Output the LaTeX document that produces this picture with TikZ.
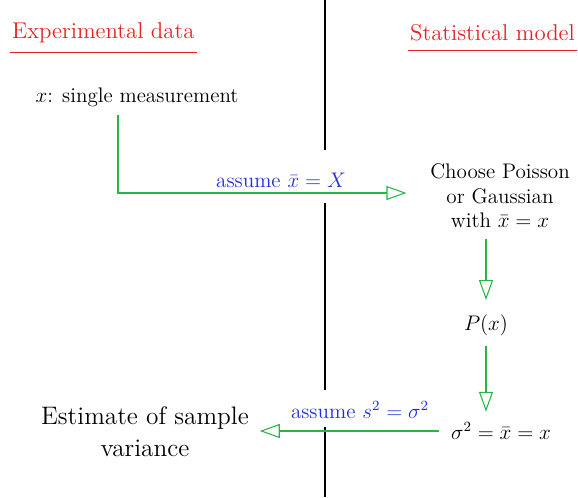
\documentclass[tikz,border=0pt]{standalone}
\usepackage{amsmath}
\usetikzlibrary{positioning,arrows.meta}
\definecolor{penred}{RGB}{230,35,35}
\definecolor{penblue}{RGB}{35,45,215}
\definecolor{pengreen}{RGB}{40,180,70}
\tikzset{
  heading/.style={font=\fontsize{13}{16}\selectfont,text=penred,inner sep=1pt},
  note/.style={font=\large,align=center,inner sep=2pt},
  assumption/.style={font=\large,text=penblue,inner sep=1pt},
  flow/.style={pengreen,semithick,-{Triangle[open,length=0.4cm,width=0.28cm]}}
}
\begin{document}
\begin{tikzpicture}[x=0.02cm,y=-0.02cm]
\useasboundingbox (0,0) rectangle (578,497);
% divider between data and model
\draw[semithick] (325,0) -- (325,150) (325,203) -- (325,390) (325,427) -- (325,497);
% headings
\node[heading,anchor=west] (expdata) at (10,33) {Experimental data};
\node[heading,anchor=east] (statmodel) at (577,33) {Statistical model};
\draw[penred,semithick] ([yshift=-4pt]expdata.south west) -- ([yshift=-4pt]expdata.south east);
\draw[penred,semithick] ([yshift=-4pt]statmodel.south west) -- ([yshift=-4pt]statmodel.south east);
% texts
\node[note] (meas) at (137,97) {$x$: single measurement};
\node[note] (choose) at (500,196) {Choose Poisson\\or Gaussian\\with $\bar{x}=x$};
\node[note] (px) at (486,325) {$P(x)$};
\node[note,font=\fontsize{11.5}{14}\selectfont] (sigma) at (501,431) {$\sigma^2=\bar{x}=x$};
\node[note,font=\Large] (estimate) at (145,432) {Estimate of sample\\variance};
\node[assumption] (assume1) at (281,180) {assume $\bar{x}=X$};
\node[assumption] (assume2) at (360,410) {assume $s^2=\sigma^2$};
% arrows
\coordinate (start) at (118,115);
\coordinate (bend) at (118,193);
\draw[flow,shorten >=0.4cm] (start) -- (bend) -- (bend -| choose.west);
\draw[flow,shorten <=4pt,shorten >=6pt] (px.north |- choose.south) -- (px.north);
\draw[flow,shorten <=4pt,shorten >=4pt] (px.south) -- (px.south |- sigma.north);
\draw[flow,shorten <=0.16cm,shorten >=4pt] (sigma.west) -- (sigma.west -| estimate.east);
\end{tikzpicture}
\end{document}
